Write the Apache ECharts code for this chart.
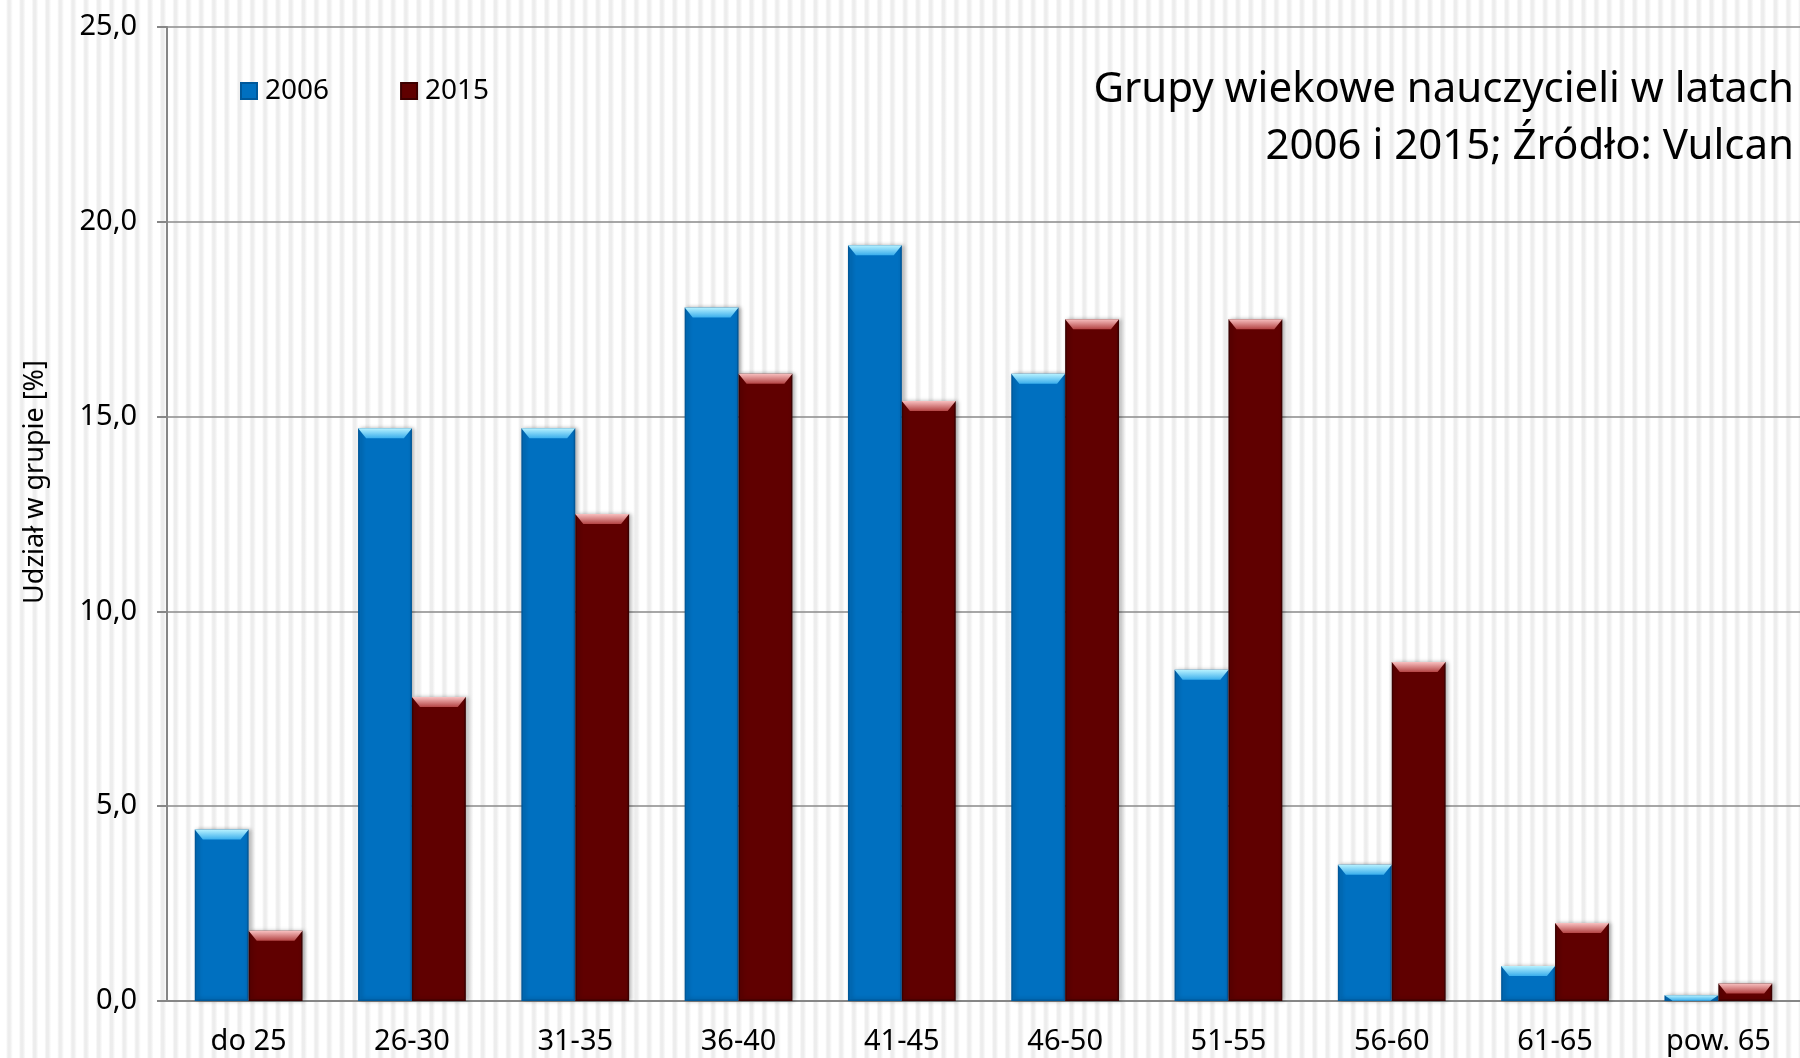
<!DOCTYPE html>
<html>
<head>
<meta charset="utf-8">
<script src="https://cdn.jsdelivr.net/npm/echarts@6/dist/echarts.min.js"></script>
<style>
  html, body { margin: 0; padding: 0; }
  body {
    width: 1800px; height: 1058px;
    background: repeating-linear-gradient(90deg, #ffffff 0px, #ffffff 6px, #ededed 8px, #ededed 10px, #ffffff 12.8px);
  }
  #main { width: 1800px; height: 1058px; }
</style>
</head>
<body>
<div id="main"></div>
<script>
// grupy wiekowe
var categories = ["do 25", "26-30", "31-35", "36-40", "41-45", "46-50", "51-55", "56-60", "61-65", "pow. 65"];
var values2006 = [4.4, 14.7, 14.7, 17.8, 19.4, 16.1, 8.5, 3.5, 0.9, 0.15];
var values2015 = [1.8, 7.8, 12.5, 16.1, 15.4, 17.5, 17.5, 8.7, 2.0, 0.45];
var yTicks = [0, 5, 10, 15, 20, 25];

var font = "'Noto Sans', 'DejaVu Sans', sans-serif";
var bevel = "path://M0,0 L100,0 L85,10 L15,10 Z";

var myChart = echarts.init(document.getElementById("main"), null, { renderer: "canvas" });

function grad(top, bottom) {
  return new echarts.graphic.LinearGradient(0, 0, 0, 1, [
    { offset: 0, color: top },
    { offset: 1, color: bottom }
  ]);
}

// bevel on top of each bar, not taller than the bar itself
function bevelData(vals) {
  return vals.map(function (v) {
    return { value: v, symbolSize: ["100%", Math.min(10, v * 38)] };
  });
}

var option = {
  backgroundColor: "transparent",
  animation: false,
  textStyle: { fontFamily: font },
  grid: { left: 167, right: 0, top: 27, bottom: 57 },
  legend: {
    data: ["2006", "2015"],
    left: 235,
    top: 72,
    itemWidth: 16,
    itemHeight: 16,
    itemGap: 71,
    icon: "rect",
    textStyle: { fontFamily: font, fontSize: 28, color: "#000", padding: [0, 0, 0, 3] }
  },
  graphic: [
    {
      type: "text",
      x: 35,
      y: 482,
      rotation: Math.PI / 2,
      style: {
        text: "Udział w grupie [%]",
        font: "27px " + font,
        fill: "#000",
        align: "center",
        verticalAlign: "middle"
      }
    },
    {
      type: "text",
      x: 1794,
      y: 62,
      style: {
        text: "Grupy wiekowe nauczycieli w latach\n2006 i 2015; Źródło: Vulcan",
        font: "42px " + font,
        lineHeight: 57,
        fill: "#000",
        align: "right",
        verticalAlign: "top"
      }
    }
  ],
  xAxis: {
    type: "category",
    data: categories,
    axisLine: { lineStyle: { color: "#868686", width: 2 } },
    axisTick: { show: false },
    axisLabel: { color: "#000", fontSize: 29, fontFamily: font, margin: 26 }
  },
  yAxis: {
    type: "value",
    min: 0,
    max: 25,
    interval: 5,
    axisLine: { show: true, lineStyle: { color: "#868686", width: 2 } },
    axisTick: { show: true, length: 10, lineStyle: { color: "#868686", width: 2 } },
    splitLine: { lineStyle: { color: "#8a8a8a", width: 1.5 } },
    axisLabel: {
      color: "#000",
      fontSize: 29,
      fontFamily: font,
      margin: 30,
      formatter: function (v) {
        return yTicks.indexOf(v) >= 0 ? v.toFixed(1).replace(".", ",") : "";
      }
    }
  },
  series: [
    {
      name: "2006",
      type: "bar",
      data: values2006,
      barGap: "0%",
      barCategoryGap: "34%",
      itemStyle: {
        color: "#0070C0",
        borderColor: "#00589a",
        borderWidth: 1.5,
        shadowBlur: 4,
        shadowOffsetX: 2,
        shadowColor: "rgba(0,0,0,0.3)"
      }
    },
    {
      name: "2015",
      type: "bar",
      data: values2015,
      barGap: "0%",
      barCategoryGap: "34%",
      itemStyle: {
        color: "#600000",
        borderColor: "#3c0000",
        borderWidth: 1.5,
        shadowBlur: 4,
        shadowOffsetX: 2,
        shadowColor: "rgba(0,0,0,0.3)"
      }
    },
    {
      name: "top2006",
      type: "pictorialBar",
      data: bevelData(values2006),
      barGap: "0%",
      barCategoryGap: "34%",
      symbol: bevel,
      symbolPosition: "end",
      z: 3,
      itemStyle: { color: grad("#b8f2ff", "#3aaeec") }
    },
    {
      name: "top2015",
      type: "pictorialBar",
      data: bevelData(values2015),
      barGap: "0%",
      barCategoryGap: "34%",
      symbol: bevel,
      symbolPosition: "end",
      z: 3,
      itemStyle: { color: grad("#f8c0c0", "#b44444") }
    }
  ]
};

myChart.setOption(option);
</script>
</body>
</html>
